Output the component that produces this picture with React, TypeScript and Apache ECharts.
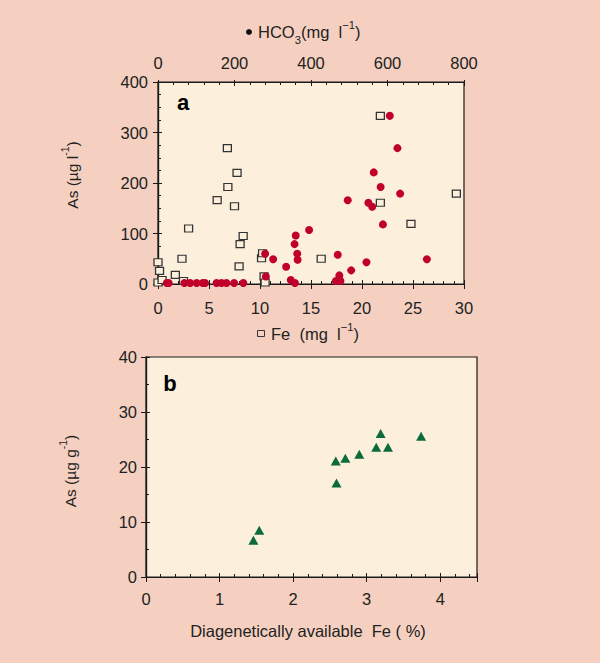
import React, { useEffect, useRef } from "react";
import * as echarts from "echarts";

// Panel a: As vs Fe (open squares, bottom axis)
const feSquares: [number, number][] = [
  [6.8, 269], [7.75, 220], [6.85, 192], [5.8, 166], [7.5, 154], [3.0, 110],
  [8.35, 95], [8.05, 79], [10.15, 51], [10.25, 61], [2.35, 50], [7.95, 35],
  [0, 43], [0.15, 26], [1.7, 18], [2.5, 6], [0, 3], [0.4, 8], [10.4, 15],
  [10.5, 3], [21.8, 333], [21.8, 161], [24.8, 119], [29.25, 179], [16.0, 50],
];

// Panel a: As vs HCO3 (filled circles, top axis)
const hco3Circles: [number, number][] = [
  [606, 333], [626, 269], [564, 221], [582, 192], [633, 179], [496, 166],
  [550, 161], [560, 153], [588, 118], [395, 107], [360, 96], [357, 79],
  [364, 60], [365, 48], [335, 34], [301, 49], [280, 60], [282, 15],
  [347, 8], [358, 2], [470, 58], [545, 43], [703, 49], [505, 27],
  [474, 17], [465, 6], [477, 6],
  [23, 2], [28, 2], [69, 2], [84, 2], [101, 2], [117, 2], [123, 2],
  [153, 2], [166, 2], [179, 2], [199, 2], [223, 2],
];

// Panel b: As (ug/g) vs diagenetically available Fe (%)
const sedimentPoints: [number, number][] = [
  [1.46, 6.7], [1.54, 8.5], [2.58, 21.1], [2.71, 21.6], [2.59, 17.1],
  [2.9, 22.3], [3.13, 23.6], [3.19, 26.1], [3.29, 23.6], [3.74, 25.6],
];

const FONT = "'Liberation Sans', Arial, Helvetica, sans-serif";
const OUTER = "#f5d0c0";
const INNER = "#fcf0dc";
const AX = "#1a1a1a";
const FS = 16.5;

function label(margin: number, extra: any = {}) {
  return { fontFamily: FONT, fontSize: FS, color: "#222", margin, ...extra };
}

function baseAxis(extra: any) {
  return {
    type: "value",
    splitLine: { show: false },
    axisLine: { show: true, onZero: false, lineStyle: { color: AX, width: 1.2 } },
    axisLabel: label(10),
    ...extra,
  };
}

function innerAxis(extra: any, minorSplit: number) {
  return baseAxis({
    axisTick: { show: true, inside: true, length: 4, lineStyle: { color: AX } },
    minorTick: { show: true, splitNumber: minorSplit, length: 3, lineStyle: { color: AX } },
    ...extra,
  });
}

function outerDup(extra: any) {
  return baseAxis({
    axisTick: { show: true, inside: false, length: 5, lineStyle: { color: AX } },
    axisLabel: { show: false },
    minorTick: { show: false },
    ...extra,
  });
}

export default function App() {
  const ref = useRef<HTMLDivElement>(null);
  useEffect(() => {
    if (!ref.current) return;
    const chart = echarts.init(ref.current, undefined, { renderer: "svg" });
    const rich = (fs: number) => ({
      m: { fontFamily: FONT, fontSize: fs, fill: "#222", lineHeight: 26, verticalAlign: "middle" },
      sup: { fontFamily: FONT, fontSize: fs * 0.68, fill: "#222", lineHeight: 11, verticalAlign: "top" },
      sub: { fontFamily: FONT, fontSize: fs * 0.68, fill: "#222", lineHeight: 11, verticalAlign: "bottom" },
    });
    const option: any = {
      animation: false,
      backgroundColor: OUTER,
      grid: [
        { left: 158, top: 82, width: 306, height: 202, show: true, backgroundColor: INNER, borderColor: AX, borderWidth: 1.2 },
        { left: 146, top: 357, width: 331, height: 220, show: true, backgroundColor: INNER, borderColor: AX, borderWidth: 1.2 },
      ],
      xAxis: [
        innerAxis({ gridIndex: 0, position: "bottom", min: 0, max: 30, interval: 5, axisLabel: label(15) }, 5),
        innerAxis({ gridIndex: 0, position: "top", min: 0, max: 800, interval: 200, axisLabel: label(11) }, 5),
        innerAxis({ gridIndex: 1, position: "bottom", min: 0, max: 4.5, interval: 1, axisLabel: label(13, { showMaxLabel: false }) }, 5),
        outerDup({ gridIndex: 0, position: "bottom", min: 0, max: 30, interval: 5 }),
        outerDup({ gridIndex: 0, position: "top", min: 0, max: 800, interval: 200, axisTick: { show: true, inside: false, length: 2, lineStyle: { color: AX } } }),
        outerDup({ gridIndex: 1, position: "bottom", min: 0, max: 4.5, interval: 1 }),
      ],
      yAxis: [
        innerAxis({ gridIndex: 0, position: "left", min: 0, max: 400, interval: 100, axisLabel: label(10) }, 4),
        innerAxis({ gridIndex: 1, position: "left", min: 0, max: 40, interval: 10, axisLabel: label(9) }, 2),
        outerDup({ gridIndex: 0, position: "left", min: 0, max: 400, interval: 100 }),
        outerDup({ gridIndex: 1, position: "left", min: 0, max: 40, interval: 10 }),
      ],
      series: [
        {
          type: "scatter", xAxisIndex: 0, yAxisIndex: 0, data: feSquares,
          symbol: "rect", symbolSize: [8, 7],
          itemStyle: { color: INNER, borderColor: "#333", borderWidth: 1.2, opacity: 1 },
          z: 3,
        },
        {
          type: "scatter", xAxisIndex: 1, yAxisIndex: 0, data: hco3Circles,
          symbol: "circle", symbolSize: 8,
          itemStyle: { color: "#c0002b", opacity: 1 },
          z: 4,
        },
        {
          type: "scatter", xAxisIndex: 2, yAxisIndex: 1, data: sedimentPoints,
          symbol: "triangle", symbolSize: [10, 9],
          itemStyle: { color: "#0c6a3b", opacity: 1 },
          z: 4,
        },
      ],
      graphic: [
        { type: "circle", shape: { cx: 249, cy: 32, r: 3 }, style: { fill: "#111" } },
        {
          type: "text", x: 258, y: 32,
          style: { text: "{m|HCO}{sub|3}{m|(mg  l}{sup|−1}{m|)}", rich: rich(FS), align: "left", verticalAlign: "middle" },
        },
        { type: "rect", shape: { x: 257.5, y: 330.5, width: 7, height: 6 }, style: { fill: "none", stroke: "#333", lineWidth: 1 } },
        {
          type: "text", x: 271, y: 334,
          style: { text: "{m|Fe  (mg  l}{sup|−1}{m|)}", rich: rich(FS), align: "left", verticalAlign: "middle" },
        },
        {
          type: "text", x: 72, y: 175, rotation: Math.PI / 2,
          style: { text: "{m|As (µg l}{sup|-1}{m|)}", rich: rich(15.5), align: "center", verticalAlign: "middle" },
        },
        {
          type: "text", x: 70, y: 471, rotation: Math.PI / 2,
          style: { text: "{m|As (µg g}{sup|-1}{m|)}", rich: rich(15.5), align: "center", verticalAlign: "middle" },
        },
        {
          type: "text", x: 308, y: 631,
          style: { text: "Diagenetically available  Fe ( %)", fontFamily: FONT, fontSize: FS, fill: "#222", align: "center", verticalAlign: "middle" },
        },
        {
          type: "text", x: 183, y: 102,
          style: { text: "a", fontFamily: FONT, fontSize: 22, fontWeight: 900, fill: "#000", align: "center", verticalAlign: "middle" },
        },
        {
          type: "text", x: 170, y: 383,
          style: { text: "b", fontFamily: FONT, fontSize: 22, fontWeight: 900, fill: "#000", align: "center", verticalAlign: "middle" },
        },
      ],
    };
    chart.setOption(option);
    return () => chart.dispose();
  }, []);
  return (
    <div
      ref={ref}
      style={{ position: "fixed", left: 0, top: 0, width: 600, height: 663 }}
    />
  );
}
